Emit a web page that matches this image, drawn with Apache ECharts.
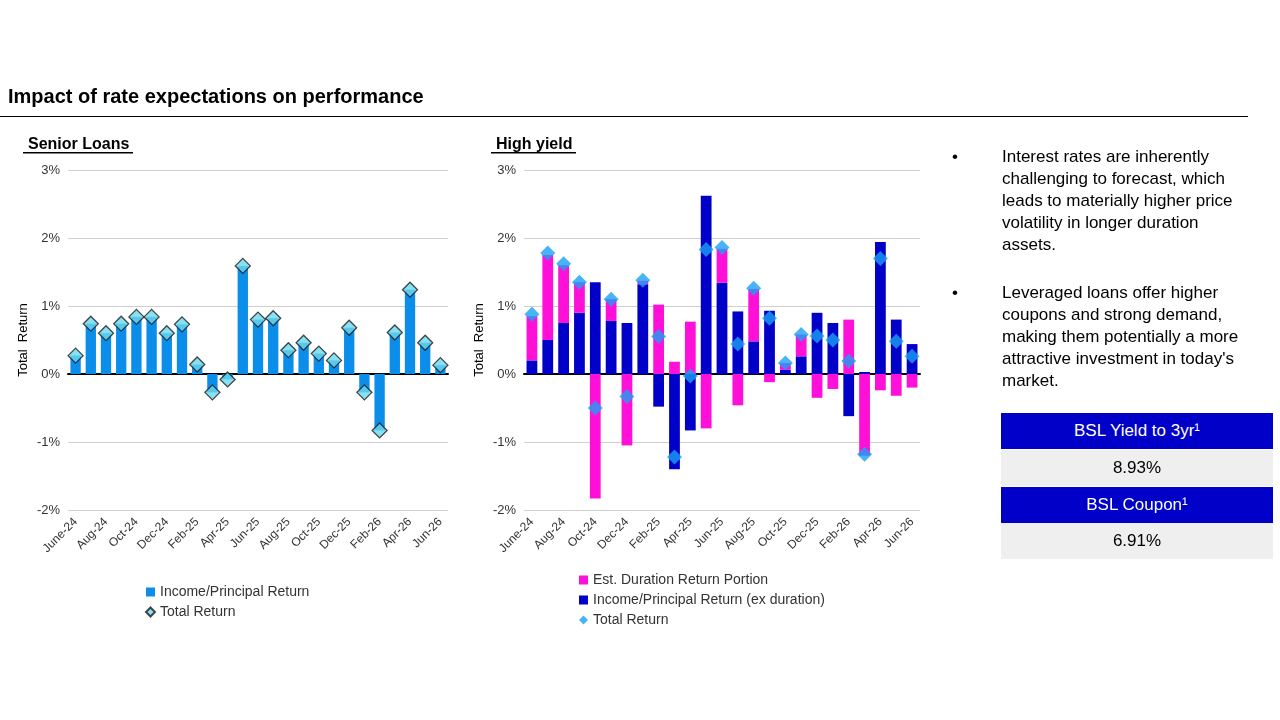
<!DOCTYPE html>
<html><head><meta charset="utf-8">
<script src="https://cdn.jsdelivr.net/npm/echarts@6/dist/echarts.min.js"></script>
<style>
body{margin:0;width:1280px;height:720px;background:#fff;font-family:Arial,"Liberation Sans",sans-serif;position:relative;overflow:hidden}
#c{position:absolute;left:0;top:0;width:1280px;height:720px}
.t{position:absolute;left:8px;top:85px;font-size:20px;font-weight:bold;color:#000}
.hr{position:absolute;left:0;top:116px;width:1248px;height:1px;background:#000}
.b{position:absolute;left:952px;font-size:17px;color:#000;line-height:22px;width:300px}
.b span{position:absolute;left:0}
.b div{margin-left:50px}
.h{position:absolute;left:1001px;width:272px;height:36px;background:#0000c8;color:#fff;font-size:17px;text-align:center;line-height:36px}
.v{position:absolute;left:1001px;width:272px;height:36px;background:#efefef;color:#000;font-size:17px;text-align:center;line-height:36px}
</style></head><body>
<div id="c"></div>
<div class="t">Impact of rate expectations on performance</div>
<div class="hr"></div>
<div class="b" style="top:146px"><span>•</span><div>Interest rates are inherently challenging to forecast, which leads to materially higher price volatility in longer duration assets.</div></div>
<div class="b" style="top:282px"><span>•</span><div>Leveraged loans offer higher coupons and strong demand, making them potentially a more attractive investment in today's market.</div></div>
<div class="h" style="top:413px">BSL Yield to 3yr¹</div>
<div class="v" style="top:450px">8.93%</div>
<div class="h" style="top:487px">BSL Coupon¹</div>
<div class="v" style="top:523px">6.91%</div>
<script>
const categories=['June-24','Jul-24','Aug-24','Sep-24','Oct-24','Nov-24','Dec-24','Jan-25','Feb-25','Mar-25','Apr-25','May-25','Jun-25','Jul-25','Aug-25','Sep-25','Oct-25','Nov-25','Dec-25','Jan-26','Feb-26','Mar-26','Apr-26','May-26','Jun-26'];
const slTotal=[0.27,0.74,0.6,0.74,0.84,0.84,0.6,0.73,0.14,-0.27,-0.08,1.59,0.8,0.82,0.35,0.46,0.3,0.2,0.68,-0.27,-0.83,0.61,1.24,0.46,0.13];
const hyIncome=[0.2,0.5,0.75,0.9,1.35,0.78,0.75,1.32,-0.48,-1.4,-0.83,2.62,1.34,0.92,0.48,0.93,0.06,0.26,0.9,0.75,-0.62,0.03,1.94,0.8,0.44];
const hyDuration=[0.65,1.25,0.85,0.45,-1.83,0.32,-1.05,0.05,1.02,0.18,0.77,-0.8,0.5,-0.46,0.77,-0.12,0.1,0.32,-0.35,-0.22,0.8,-1.2,-0.24,-0.32,-0.2];
const hyTotal=[0.88,1.78,1.62,1.35,-0.5,1.1,-0.33,1.38,0.55,-1.22,-0.03,1.83,1.86,0.44,1.26,0.82,0.16,0.58,0.56,0.5,0.19,-1.18,1.7,0.48,0.26];
const ch=echarts.init(document.getElementById('c'));
function xa(i){return {type:'category',gridIndex:i,data:categories,axisLine:{onZero:true,lineStyle:{color:'#000',width:2}},axisTick:{show:false},
 axisLabel:{interval:1,rotate:45,fontSize:12,color:'#333',margin:10}};}
function ya(i){return {type:'value',gridIndex:i,min:-2,max:3,interval:1,name:'Total  Return',nameLocation:'middle',nameGap:38,nameTextStyle:{fontSize:13,color:'#000'},
 axisLabel:{formatter:'{value}%',fontSize:13,color:'#333'},axisLine:{show:false},axisTick:{show:false},splitLine:{lineStyle:{color:'#d0d0d0'}}};}
ch.setOption({
 animation:false,
 textStyle:{fontFamily:'Arial, Liberation Sans, sans-serif'},
 title:[{text:'Senior Loans',left:23,top:132,textStyle:{fontSize:16,fontWeight:'bold',color:'#000'}},
        {text:'High yield',left:491,top:132,textStyle:{fontSize:16,fontWeight:'bold',color:'#000'}}],
 graphic:[{type:'rect',shape:{x:23,y:152,width:110,height:1.5},style:{fill:'#000'}},{type:'rect',shape:{x:491,y:152,width:85,height:1.5},style:{fill:'#000'}}],
 grid:[{left:68,top:170,width:380,height:340},{left:524,top:170,width:396,height:340}],
 xAxis:[xa(0),xa(1)],yAxis:[ya(0),ya(1)],
 legend:[{left:140,top:580,orient:'vertical',itemGap:6,itemWidth:9,itemHeight:9,textStyle:{fontSize:14,color:'#333'},data:[{name:'Income/Principal Return',icon:'rect'},{name:'Total Return',icon:'diamond'}]},
         {left:574,top:568,orient:'vertical',itemGap:6,itemWidth:9,itemHeight:9,textStyle:{fontSize:14,color:'#333'},data:[{name:'Est. Duration Return Portion',icon:'rect'},{name:'Income/Principal Return (ex duration)',icon:'rect'},{name:'Total Return ',icon:'diamond'}]}],
 series:[
  {name:'Income/Principal Return',type:'bar',xAxisIndex:0,yAxisIndex:0,data:slTotal,barWidth:'68%',itemStyle:{color:'#0b8eea'}},
  {name:'Total Return',type:'scatter',xAxisIndex:0,yAxisIndex:0,data:slTotal,symbol:'diamond',symbolSize:15,itemStyle:{color:'#6ad8ee',borderColor:'#1a1a1a',borderWidth:1.3},z:5},
  {name:'Income/Principal Return (ex duration)',type:'bar',stack:'hy',xAxisIndex:1,yAxisIndex:1,data:hyIncome,barWidth:'68%',itemStyle:{color:'#0000c8'}},
  {name:'Est. Duration Return Portion',type:'bar',stack:'hy',xAxisIndex:1,yAxisIndex:1,data:hyDuration,itemStyle:{color:'#ff10d8'}},
  {name:'Total Return ',type:'scatter',xAxisIndex:1,yAxisIndex:1,data:hyTotal,symbol:'diamond',symbolSize:15,itemStyle:{color:'#1aa0f4'},z:5}
 ]
});
</script></body></html>
